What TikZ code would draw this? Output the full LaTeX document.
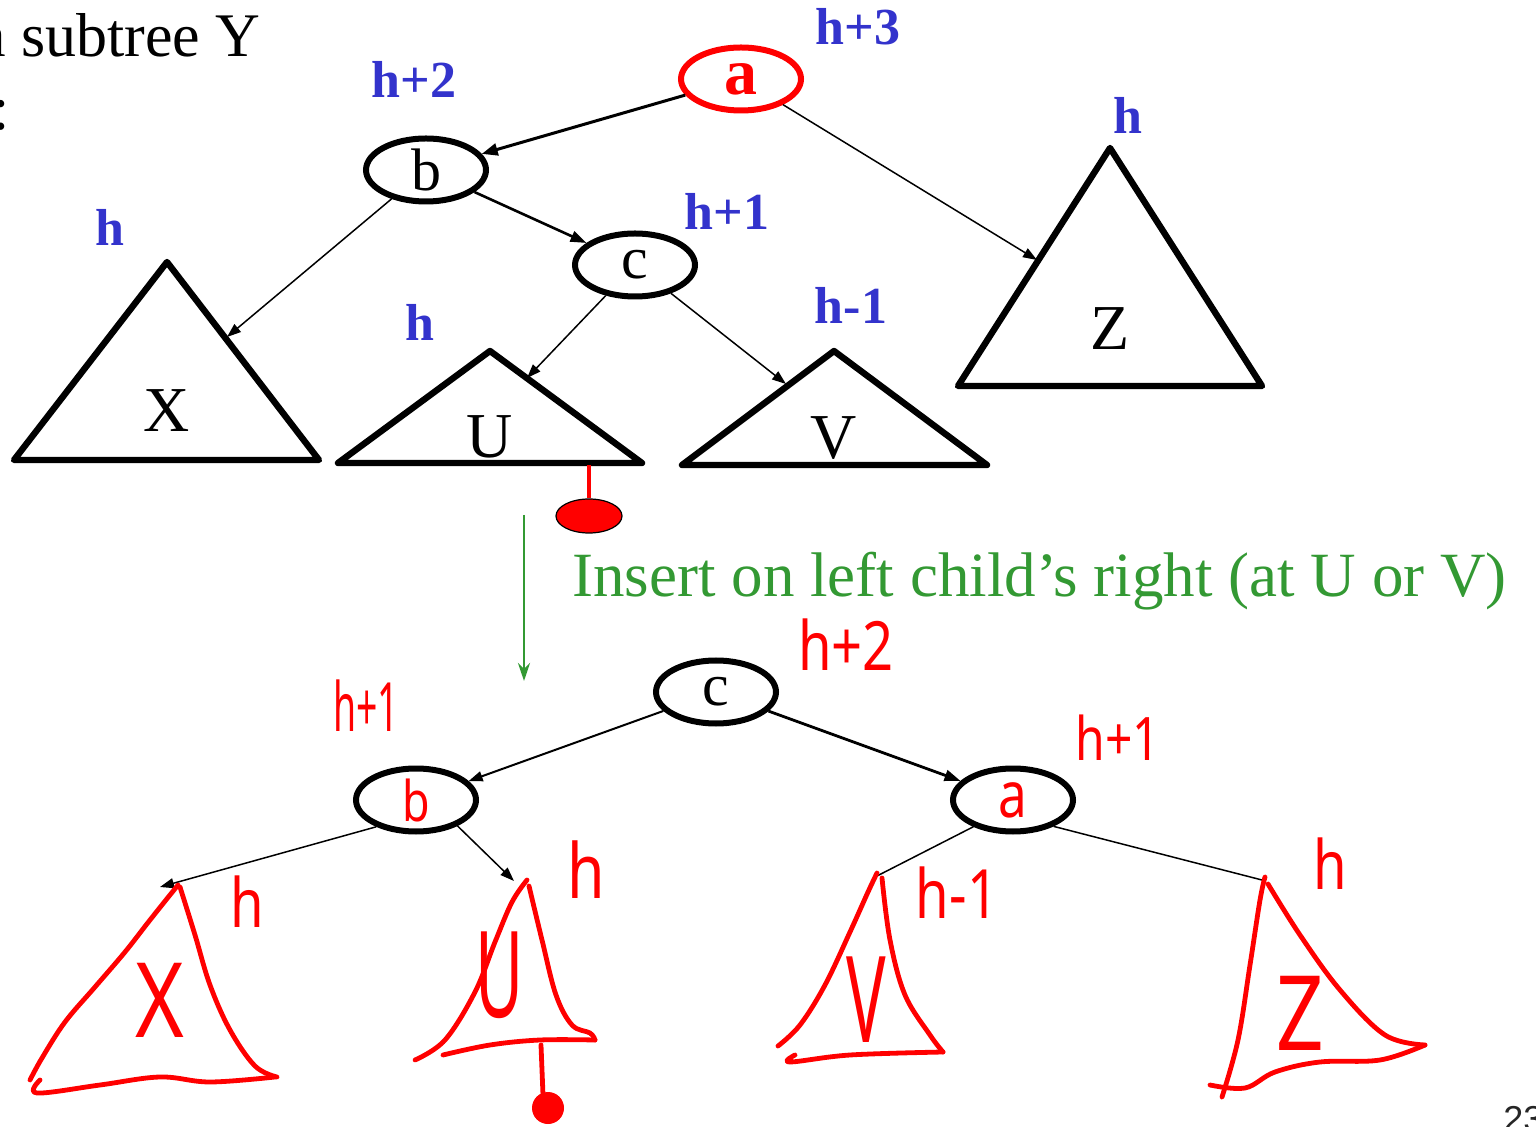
\documentclass[tikz,border=0pt]{standalone}
\usepackage{fontspec}
\setmainfont{Liberation Serif}
\newfontfamily\hand[FakeStretch=0.55]{Noto Sans}
\newfontfamily\handw[FakeStretch=0.8]{Noto Sans}
\newfontfamily\pagefont{Liberation Sans}
\usetikzlibrary{arrows.meta,shapes.geometric}
\definecolor{lblue}{RGB}{51,51,204}
\definecolor{lgreen}{RGB}{51,153,51}
\definecolor{hred}{RGB}{255,0,0}
\begin{document}
\begin{tikzpicture}[x=0.5pt,y=-0.5pt,
  tnode/.style={ellipse, draw=black, line width=3pt, inner sep=0pt, minimum width=60pt, minimum height=31.5pt, font=\fontsize{30}{30}\selectfont},
  tri/.style={draw=black, line width=3.2pt, line join=round},
  lbl/.style={text=lblue, font=\bfseries\fontsize{26}{26}\selectfont},
  tlab/.style={font=\fontsize{32}{32}\selectfont},
  hw/.style={text=hred, font=\hand\fontsize{34}{34}\selectfont},
  rstroke/.style={draw=hred, line width=2.4pt, line cap=round, line join=round},
  ed/.style={line width=0.75pt, -{Triangle[length=7pt,width=5pt]}},
  edk/.style={line width=1.3pt, -{Triangle[length=8pt,width=5.5pt]}},
  edn/.style={line width=0.75pt}]
\useasboundingbox (0,0) rectangle (1536,1127);
\fill[white] (0,0) rectangle (1536,1127);

% header text (partially cut off at the page edge)
\node[anchor=base west, inner sep=0pt, font=\fontsize{31}{31}\selectfont] (hdr) at (-22,57) {a subtree Y};
\node[anchor=base west, inner sep=0pt, font=\fontsize{31}{31}\selectfont] (hdr2) at (-8,130) {:};
\node[anchor=base west, inner sep=0pt, text=black!85, font=\pagefont\fontsize{18}{18}\selectfont] (pg) at (1503,1131) {23};

% ---------- top tree ----------
\node[tnode, draw=hred, text=hred, font=\bfseries\fontsize{33}{33}\selectfont, text depth=0pt, yshift=-2pt] (a) at (741,75) {a};
\node[tnode] (b) at (426,170) {b};
\node[tnode] (c) at (635,265) {c};

\node[lbl] (la) at (858,27) {h+3};
\node[lbl] (lb) at (414,79) {h+2};
\node[lbl] (lc) at (727,211) {h+1};
\node[lbl] (lx) at (110,227) {h};
\node[lbl] (lu) at (420,322) {h};
\node[lbl] (lv) at (851,305) {h-1};
\node[lbl] (lz) at (1128,115) {h};

\draw[tri] (167,262) -- (319,460) -- (14,460) -- cycle;
\draw[tri] (490,351) -- (642,463) -- (338,463) -- cycle;
\draw[tri] (834,351) -- (987,465) -- (682,465) -- cycle;
\draw[tri] (1110,148) -- (1262,386) -- (958,386) -- cycle;
\node[tlab] (tx) at (167,411) {X};
\node[tlab] (tu) at (490,437) {U};
\node[tlab] (tv) at (834,438) {V};
\node[tlab] (tz) at (1110,329) {Z};

\coordinate (xin) at (227,337);
\coordinate (uin) at (527,378);
\coordinate (vin) at (786,384);
\coordinate (zin) at (1037,260);

\draw[line width=1.5pt, -{Triangle[length=8pt,width=6pt]}] (a) -- (b);
\draw[ed] (a) -- (zin);
\draw[ed] (b) -- (xin);
\draw[edk] (b) -- (c);
\draw[ed] (c) -- (uin);
\draw[ed] (c) -- (vin);

% inserted node
\coordinate (ustem) at (589,465);
\node[ellipse, draw=black, fill=hred, line width=0.6pt, inner sep=0pt, minimum width=33pt, minimum height=17pt] (ins) at (589,516) {};
\draw[hred, line width=2pt] (ustem) -- (ins.north);

% green arrow and caption
\coordinate (gs) at (524,515);
\coordinate (ge) at (524,681);
\draw[lgreen, line width=1.4pt, -{Stealth[length=9pt,width=6pt]}] (gs) -- (ge);
\node[anchor=base west, inner sep=0pt, text=lgreen, font=\fontsize{31.5}{31.5}\selectfont] (cap) at (572,597) {Insert on left child’s right (at U or V)};

% ---------- bottom tree ----------
\node[tnode] (c2) at (716,692) {c};
\node[tnode, text=hred, font=\handw\fontsize{28}{28}\selectfont] (b2) at (416,800) {b};
\node[tnode, text=hred, font=\handw\fontsize{32}{32}\selectfont] (a2) at (1013,800) {a};

\node[hw, font=\handw\fontsize{34}{34}\selectfont] (h2c) at (846,645) {h+2};
\node[hw] (h1b) at (366,706) {h+1};
\node[hw, font=\handw\fontsize{30}{30}\selectfont] (h1a) at (1118,738) {h+1};
\node[hw, font=\handw\fontsize{34}{34}\selectfont] (hx) at (247,902) {h};
\node[hw, font=\handw\fontsize{38}{38}\selectfont] (hu) at (586,870) {h};
\node[hw, font=\handw\fontsize{34}{34}\selectfont] (hv) at (957,893) {h-1};
\node[hw, font=\handw\fontsize{34}{34}\selectfont] (hz) at (1330,864) {h};

\coordinate (x2in) at (160,887);
\coordinate (u2in) at (514,881);
\coordinate (v2in) at (875,877);
\coordinate (z2in) at (1262,880);

\draw[line width=1pt, -{Triangle[length=7pt,width=5pt]}] (c2) -- (b2);
\draw[line width=1.4pt, -{Triangle[length=8pt,width=5.5pt]}] (c2) -- (a2);
\draw[ed] (b2.214) -- (x2in);
\draw[ed] (b2.-32) -- (u2in);
\draw[edn] (a2.214) -- (v2in);
\draw[edn] (a2.-33) -- (z2in);

% hand-drawn X
\draw[rstroke] plot[smooth, tension=0.6] coordinates {(178,885) (150,920) (125,952) (95,987) (65,1022) (42,1058) (30,1080)};
\draw[rstroke] plot[smooth, tension=0.6] coordinates {(180,887) (195,935) (210,985) (230,1030) (255,1066) (277,1077)};
\draw[rstroke] plot[smooth, tension=0.6] coordinates {(40,1080) (37,1093) (100,1085) (160,1077) (210,1082) (275,1077)};
\node[hw, font=\handw\fontsize{52}{52}\selectfont] (hX) at (160,1000) {X};

% hand-drawn U
\draw[rstroke] plot[smooth, tension=0.6] coordinates {(527,880) (512,902) (495,942) (475,992) (445,1040) (415,1060)};
\draw[rstroke] plot[smooth, tension=0.6] coordinates {(529,886) (542,940) (556,995) (572,1025) (590,1033) (595,1040)};
\draw[rstroke] plot[smooth, tension=0.6] coordinates {(443,1055) (490,1045) (540,1040) (595,1040)};
\draw[rstroke] (541,1045) -- (543,1095);
\fill[hred] (548,1108) circle[radius=8pt];
\node[hw, font=\hand\fontsize{60}{60}\selectfont] (hU) at (500,975) {U};

% hand-drawn V
\draw[rstroke] plot[smooth, tension=0.6] coordinates {(877,873) (868,892) (850,932) (825,985) (800,1025) (778,1046)};
\draw[rstroke] plot[smooth, tension=0.6] coordinates {(882,878) (890,940) (905,995) (930,1035) (943,1052)};
\draw[rstroke] plot[smooth, tension=0.6] coordinates {(795,1055) (790,1062) (850,1055) (943,1052)};
\node[hw, font=\hand\fontsize{60}{60}\selectfont] (hV) at (866,1000) {V};

% hand-drawn Z
\draw[rstroke] plot[smooth, tension=0.6] coordinates {(1265,877) (1260,900) (1250,965) (1238,1040) (1222,1097)};
\draw[rstroke] plot[smooth, tension=0.6] coordinates {(1268,884) (1300,935) (1340,990) (1385,1035) (1425,1045)};
\draw[rstroke] plot[smooth, tension=0.6] coordinates {(1210,1085) (1245,1088) (1275,1072) (1320,1062) (1380,1060) (1425,1045)};
\node[hw, font=\handw\fontsize{52}{52}\selectfont] (hZ) at (1300,1013) {Z};
\end{tikzpicture}
\end{document}
